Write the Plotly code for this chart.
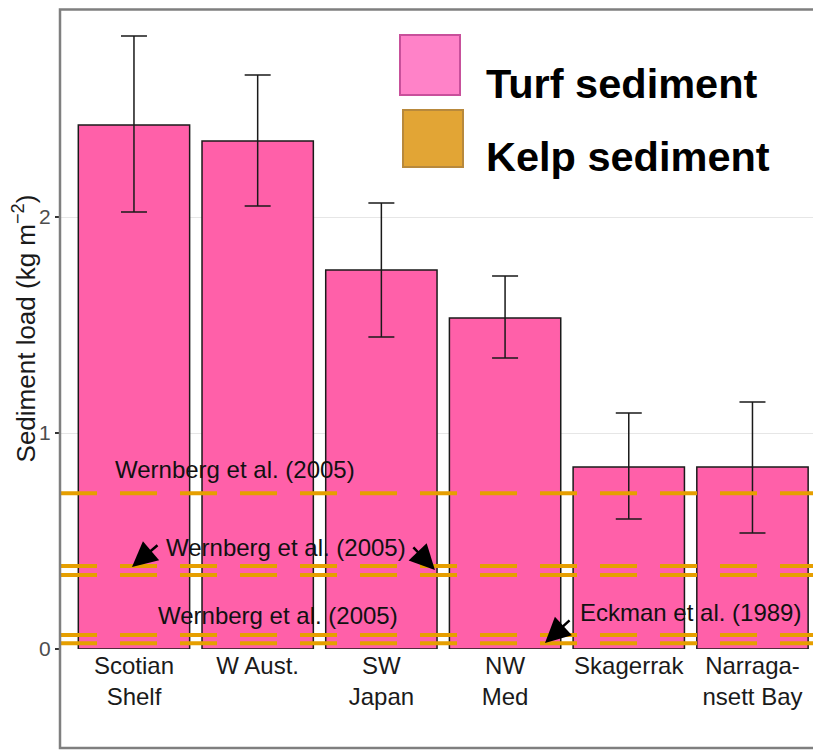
import plotly.graph_objects as go

# bar data: turf sediment load per region (kg m^-2)
REGIONS = ["Scotian<br>Shelf", "W Aust.", "SW<br>Japan", "NW<br>Med", "Skagerrak", "Narraga-<br>nsett Bay"]
TURF_MEAN = [2.426, 2.352, 1.755, 1.532, 0.843, 0.843]
TURF_UPPER = [2.838, 2.657, 2.065, 1.727, 1.093, 1.144]
TURF_LOWER = [2.023, 2.051, 1.444, 1.347, 0.602, 0.537]

# kelp sediment reference levels (dashed lines)
KELP_LEVELS = [0.721, 0.384, 0.343, 0.065, 0.027]

TURF_COLOR = "#ff60a9"
KELP_COLOR = "#e69f00"
FONT = "Liberation Sans, Arial, sans-serif"

# page has an 8px body margin, so the figure is shrunk to fit the 821x751 window
OFF = 8
W, H = 821 - OFF, 751 - OFF
L, R, T, B = 52, 0, 0, 102


def px(x):
    return (x - OFF - L) / (W - L - R)


def py(y):
    return (H - B - (y - OFF)) / (H - T - B)


xs = list(range(len(REGIONS)))

fig = go.Figure()
fig.add_trace(go.Bar(
    x=xs,
    y=TURF_MEAN,
    width=0.9,
    marker=dict(color=TURF_COLOR, line=dict(color="#1a1a1a", width=1.5)),
    error_y=dict(
        type="data",
        symmetric=False,
        array=[u - m for u, m in zip(TURF_UPPER, TURF_MEAN)],
        arrayminus=[m - lo for m, lo in zip(TURF_MEAN, TURF_LOWER)],
        color="#1a1a1a",
        thickness=1.5,
        width=13,
    ),
    showlegend=False,
))

for lvl in KELP_LEVELS:
    fig.add_hline(y=lvl, line=dict(color=KELP_COLOR, width=4, dash="37px,23px"), layer="above")

# reference labels
txt = dict(font=dict(family=FONT, size=24, color="#111111"), showarrow=False, xref="x", yref="y")
fig.add_annotation(x=0.817, y=0.833, text="Wernberg et al. (2005)", **txt)
fig.add_annotation(x=1.229, y=0.472, text="Wernberg et al. (2005)", **txt)
fig.add_annotation(x=1.164, y=0.157, text="Wernberg et al. (2005)", **txt)
fig.add_annotation(x=4.495, y=0.171, text="Eckman et al. (1989)", **txt)

arr = dict(text="", showarrow=True, arrowhead=2, arrowsize=2.0, arrowwidth=2.5,
           arrowcolor="black", xref="x", yref="y", standoff=0)
fig.add_annotation(x=-0.016, y=0.380, ax=27, ay=-23, **arr)
fig.add_annotation(x=2.433, y=0.366, ax=-23, ay=-24, **arr)
fig.add_annotation(x=3.323, y=0.028, ax=26, ay=-24, **arr)

# legend drawn by hand (large squares)
fig.add_shape(type="rect", xref="paper", yref="paper",
              x0=px(400), x1=px(460), y0=py(95), y1=py(35),
              fillcolor="#ff82c8", line=dict(color="#c8509b", width=2), layer="above")
fig.add_shape(type="rect", xref="paper", yref="paper",
              x0=px(403), x1=px(463), y0=py(167), y1=py(110),
              fillcolor="#e2a535", line=dict(color="#b8893c", width=2), layer="above")
leg = dict(xref="paper", yref="paper", showarrow=False, xanchor="left",
           font=dict(family=FONT, size=41.5, color="black"))
fig.add_annotation(x=px(484), y=py(58), text="<b>Turf sediment</b>", **leg)
fig.add_annotation(x=px(484), y=py(131), text="<b>Kelp sediment</b>", **leg)

# outer frame
fig.add_shape(type="rect", xref="paper", yref="paper",
              x0=0, x1=1.02, y0=py(748), y1=py(9.5),
              line=dict(color="#7f7f7f", width=2.5), layer="above")

fig.update_layout(
    width=W, height=H,
    margin=dict(l=L, r=R, t=T, b=B, autoexpand=False),
    paper_bgcolor="white",
    plot_bgcolor="white",
    font=dict(family=FONT),
    showlegend=False,
    xaxis=dict(
        range=[-0.598, 5.554],
        tickvals=xs,
        ticktext=REGIONS,
        tickfont=dict(size=24, color="#1a1a1a"),
        showgrid=False,
        zeroline=False,
        showline=False,
        ticks="",
        automargin=False,
    ),
    yaxis=dict(
        range=[0, (H - T - B) / 216],
        tickvals=[0, 1, 2],
        ticktext=["0", "1", "2"],
        tickfont=dict(size=21, color="#4d4d4d"),
        ticks="outside",
        ticklen=4,
        tickwidth=1.5,
        tickcolor="#333333",
        showgrid=True,
        gridcolor="#e6e6e6",
        gridwidth=1.2,
        zeroline=False,
        showline=False,
        automargin=False,
        title=dict(text="Sediment load (kg m<sup>−2</sup>)", font=dict(size=26, color="#1a1a1a"), standoff=10),
    ),
)

fig.write_html("out.html")
